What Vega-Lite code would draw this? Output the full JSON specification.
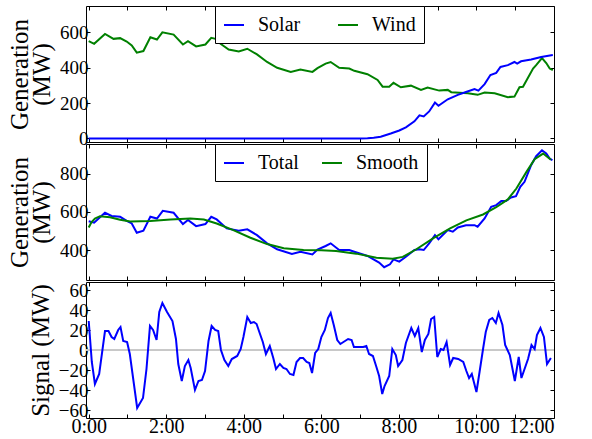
{
  "$schema": "https://vega.github.io/schema/vega-lite/v6.json",
  "padding": {"left": 7, "top": 5, "right": 5, "bottom": 0},
  "background": "white",
  "bounds": "flush",
  "spacing": 2,
  "config": {
    "font": "Liberation Serif",
    "view": {"stroke": "#000", "strokeWidth": 1},
    "axis": {"grid": false, "domain": false, "tickSize": -4, "tickColor": "#000", "labelFont": "Liberation Serif", "labelFontSize": 19, "labelColor": "#000", "labelPadding": 2, "titleFont": "Liberation Serif", "titleFontSize": 25, "titleFontWeight": "normal", "titleColor": "#000", "titlePadding": 5, "titleLineHeight": 22},
    "legend": {"labelFont": "Liberation Serif", "labelFontSize": 20, "labelColor": "#000", "symbolType": "stroke", "symbolSize": 400, "symbolStrokeWidth": 2, "labelOffset": 13, "padding": 8, "fillColor": "#fff", "strokeColor": "#000", "cornerRadius": 0}
  },
  "datasets": {
    "top": [
      {"hour": 0, "series": "Wind", "mw": 551}, {"hour": 0.14, "series": "Wind", "mw": 536}, {"hour": 0.42, "series": "Wind", "mw": 592}, {"hour": 0.64, "series": "Wind", "mw": 564}, {"hour": 0.81, "series": "Wind", "mw": 568}, {"hour": 0.98, "series": "Wind", "mw": 549}, {"hour": 1.11, "series": "Wind", "mw": 527}, {"hour": 1.24, "series": "Wind", "mw": 486}, {"hour": 1.41, "series": "Wind", "mw": 495}, {"hour": 1.59, "series": "Wind", "mw": 573}, {"hour": 1.76, "series": "Wind", "mw": 560}, {"hour": 1.9, "series": "Wind", "mw": 601}, {"hour": 2.19, "series": "Wind", "mw": 588}, {"hour": 2.43, "series": "Wind", "mw": 532}, {"hour": 2.56, "series": "Wind", "mw": 551}, {"hour": 2.77, "series": "Wind", "mw": 521}, {"hour": 3.01, "series": "Wind", "mw": 532}, {"hour": 3.16, "series": "Wind", "mw": 570}, {"hour": 3.27, "series": "Wind", "mw": 564}, {"hour": 3.4, "series": "Wind", "mw": 536}, {"hour": 3.61, "series": "Wind", "mw": 504}, {"hour": 3.87, "series": "Wind", "mw": 493}, {"hour": 4.09, "series": "Wind", "mw": 508}, {"hour": 4.34, "series": "Wind", "mw": 476}, {"hour": 4.6, "series": "Wind", "mw": 433}, {"hour": 4.86, "series": "Wind", "mw": 400}, {"hour": 5.21, "series": "Wind", "mw": 377}, {"hour": 5.46, "series": "Wind", "mw": 390}, {"hour": 5.77, "series": "Wind", "mw": 377}, {"hour": 5.9, "series": "Wind", "mw": 398}, {"hour": 6.11, "series": "Wind", "mw": 424}, {"hour": 6.24, "series": "Wind", "mw": 433}, {"hour": 6.46, "series": "Wind", "mw": 400}, {"hour": 6.72, "series": "Wind", "mw": 396}, {"hour": 6.85, "series": "Wind", "mw": 383}, {"hour": 7.19, "series": "Wind", "mw": 364}, {"hour": 7.45, "series": "Wind", "mw": 331}, {"hour": 7.58, "series": "Wind", "mw": 293}, {"hour": 7.75, "series": "Wind", "mw": 293}, {"hour": 7.86, "series": "Wind", "mw": 315}, {"hour": 8.05, "series": "Wind", "mw": 290}, {"hour": 8.31, "series": "Wind", "mw": 299}, {"hour": 8.57, "series": "Wind", "mw": 275}, {"hour": 8.74, "series": "Wind", "mw": 288}, {"hour": 9.04, "series": "Wind", "mw": 271}, {"hour": 9.26, "series": "Wind", "mw": 275}, {"hour": 9.35, "series": "Wind", "mw": 262}, {"hour": 9.78, "series": "Wind", "mw": 256}, {"hour": 10.03, "series": "Wind", "mw": 247}, {"hour": 10.21, "series": "Wind", "mw": 260}, {"hour": 10.47, "series": "Wind", "mw": 256}, {"hour": 10.81, "series": "Wind", "mw": 234}, {"hour": 10.98, "series": "Wind", "mw": 237}, {"hour": 11.11, "series": "Wind", "mw": 290}, {"hour": 11.2, "series": "Wind", "mw": 293}, {"hour": 11.46, "series": "Wind", "mw": 396}, {"hour": 11.54, "series": "Wind", "mw": 415}, {"hour": 11.69, "series": "Wind", "mw": 455}, {"hour": 11.8, "series": "Wind", "mw": 427}, {"hour": 11.89, "series": "Wind", "mw": 396}, {"hour": 11.97, "series": "Wind", "mw": 387},
      {"hour": 0, "series": "Solar", "mw": 0}, {"hour": 1, "series": "Solar", "mw": 0}, {"hour": 2, "series": "Solar", "mw": 0}, {"hour": 3, "series": "Solar", "mw": 0}, {"hour": 4, "series": "Solar", "mw": 0}, {"hour": 5, "series": "Solar", "mw": 0}, {"hour": 6, "series": "Solar", "mw": 0}, {"hour": 7, "series": "Solar", "mw": 0}, {"hour": 7.19, "series": "Solar", "mw": 1}, {"hour": 7.35, "series": "Solar", "mw": 4}, {"hour": 7.53, "series": "Solar", "mw": 10}, {"hour": 7.79, "series": "Solar", "mw": 28}, {"hour": 8.01, "series": "Solar", "mw": 45}, {"hour": 8.18, "series": "Solar", "mw": 63}, {"hour": 8.4, "series": "Solar", "mw": 97}, {"hour": 8.53, "series": "Solar", "mw": 131}, {"hour": 8.64, "series": "Solar", "mw": 125}, {"hour": 8.78, "series": "Solar", "mw": 153}, {"hour": 8.93, "series": "Solar", "mw": 203}, {"hour": 9.02, "series": "Solar", "mw": 185}, {"hour": 9.26, "series": "Solar", "mw": 222}, {"hour": 9.52, "series": "Solar", "mw": 247}, {"hour": 9.73, "series": "Solar", "mw": 263}, {"hour": 9.95, "series": "Solar", "mw": 280}, {"hour": 10.05, "series": "Solar", "mw": 271}, {"hour": 10.21, "series": "Solar", "mw": 308}, {"hour": 10.36, "series": "Solar", "mw": 359}, {"hour": 10.51, "series": "Solar", "mw": 371}, {"hour": 10.62, "series": "Solar", "mw": 405}, {"hour": 10.81, "series": "Solar", "mw": 415}, {"hour": 10.98, "series": "Solar", "mw": 433}, {"hour": 11.05, "series": "Solar", "mw": 424}, {"hour": 11.15, "series": "Solar", "mw": 437}, {"hour": 11.41, "series": "Solar", "mw": 447}, {"hour": 11.67, "series": "Solar", "mw": 461}, {"hour": 11.93, "series": "Solar", "mw": 471}, {"hour": 11.97, "series": "Solar", "mw": 472}
    ],
    "mid": [
      {"hour": 0, "series": "Total", "mw": 551}, {"hour": 0.14, "series": "Total", "mw": 543}, {"hour": 0.29, "series": "Total", "mw": 571}, {"hour": 0.42, "series": "Total", "mw": 595}, {"hour": 0.59, "series": "Total", "mw": 578}, {"hour": 0.81, "series": "Total", "mw": 574}, {"hour": 0.98, "series": "Total", "mw": 553}, {"hour": 1.11, "series": "Total", "mw": 539}, {"hour": 1.24, "series": "Total", "mw": 490}, {"hour": 1.41, "series": "Total", "mw": 501}, {"hour": 1.59, "series": "Total", "mw": 574}, {"hour": 1.76, "series": "Total", "mw": 565}, {"hour": 1.91, "series": "Total", "mw": 605}, {"hour": 2.19, "series": "Total", "mw": 595}, {"hour": 2.43, "series": "Total", "mw": 536}, {"hour": 2.56, "series": "Total", "mw": 557}, {"hour": 2.77, "series": "Total", "mw": 525}, {"hour": 3.01, "series": "Total", "mw": 536}, {"hour": 3.16, "series": "Total", "mw": 574}, {"hour": 3.3, "series": "Total", "mw": 560}, {"hour": 3.56, "series": "Total", "mw": 513}, {"hour": 3.87, "series": "Total", "mw": 501}, {"hour": 4.09, "series": "Total", "mw": 508}, {"hour": 4.34, "series": "Total", "mw": 478}, {"hour": 4.6, "series": "Total", "mw": 435}, {"hour": 4.86, "series": "Total", "mw": 404}, {"hour": 5.24, "series": "Total", "mw": 379}, {"hour": 5.46, "series": "Total", "mw": 391}, {"hour": 5.77, "series": "Total", "mw": 377}, {"hour": 5.9, "series": "Total", "mw": 402}, {"hour": 6.11, "series": "Total", "mw": 421}, {"hour": 6.24, "series": "Total", "mw": 435}, {"hour": 6.46, "series": "Total", "mw": 400}, {"hour": 6.72, "series": "Total", "mw": 400}, {"hour": 6.85, "series": "Total", "mw": 391}, {"hour": 7.19, "series": "Total", "mw": 369}, {"hour": 7.49, "series": "Total", "mw": 334}, {"hour": 7.62, "series": "Total", "mw": 310}, {"hour": 7.77, "series": "Total", "mw": 325}, {"hour": 7.86, "series": "Total", "mw": 351}, {"hour": 8.01, "series": "Total", "mw": 339}, {"hour": 8.18, "series": "Total", "mw": 365}, {"hour": 8.4, "series": "Total", "mw": 400}, {"hour": 8.53, "series": "Total", "mw": 404}, {"hour": 8.64, "series": "Total", "mw": 400}, {"hour": 8.78, "series": "Total", "mw": 435}, {"hour": 8.93, "series": "Total", "mw": 478}, {"hour": 9.02, "series": "Total", "mw": 456}, {"hour": 9.26, "series": "Total", "mw": 504}, {"hour": 9.39, "series": "Total", "mw": 496}, {"hour": 9.52, "series": "Total", "mw": 518}, {"hour": 9.73, "series": "Total", "mw": 530}, {"hour": 9.95, "series": "Total", "mw": 530}, {"hour": 10.03, "series": "Total", "mw": 522}, {"hour": 10.21, "series": "Total", "mw": 565}, {"hour": 10.38, "series": "Total", "mw": 626}, {"hour": 10.51, "series": "Total", "mw": 635}, {"hour": 10.64, "series": "Total", "mw": 656}, {"hour": 10.76, "series": "Total", "mw": 656}, {"hour": 10.89, "series": "Total", "mw": 675}, {"hour": 11.02, "series": "Total", "mw": 682}, {"hour": 11.13, "series": "Total", "mw": 731}, {"hour": 11.24, "series": "Total", "mw": 757}, {"hour": 11.41, "series": "Total", "mw": 844}, {"hour": 11.54, "series": "Total", "mw": 891}, {"hour": 11.69, "series": "Total", "mw": 922}, {"hour": 11.8, "series": "Total", "mw": 905}, {"hour": 11.89, "series": "Total", "mw": 879}, {"hour": 11.96, "series": "Total", "mw": 870},
      {"hour": 0, "series": "Smooth", "mw": 518}, {"hour": 0.07, "series": "Smooth", "mw": 545}, {"hour": 0.16, "series": "Smooth", "mw": 565}, {"hour": 0.29, "series": "Smooth", "mw": 577}, {"hour": 0.55, "series": "Smooth", "mw": 571}, {"hour": 0.81, "series": "Smooth", "mw": 558}, {"hour": 1.07, "series": "Smooth", "mw": 549}, {"hour": 1.59, "series": "Smooth", "mw": 552}, {"hour": 2.11, "series": "Smooth", "mw": 560}, {"hour": 2.62, "series": "Smooth", "mw": 565}, {"hour": 2.97, "series": "Smooth", "mw": 560}, {"hour": 3.3, "series": "Smooth", "mw": 539}, {"hour": 3.73, "series": "Smooth", "mw": 504}, {"hour": 4.17, "series": "Smooth", "mw": 464}, {"hour": 4.6, "series": "Smooth", "mw": 431}, {"hour": 5.03, "series": "Smooth", "mw": 409}, {"hour": 5.54, "series": "Smooth", "mw": 400}, {"hour": 6.0, "series": "Smooth", "mw": 399}, {"hour": 6.38, "series": "Smooth", "mw": 395}, {"hour": 6.9, "series": "Smooth", "mw": 381}, {"hour": 7.42, "series": "Smooth", "mw": 360}, {"hour": 7.84, "series": "Smooth", "mw": 354}, {"hour": 8.1, "series": "Smooth", "mw": 364}, {"hour": 8.45, "series": "Smooth", "mw": 404}, {"hour": 8.88, "series": "Smooth", "mw": 461}, {"hour": 9.32, "series": "Smooth", "mw": 513}, {"hour": 9.74, "series": "Smooth", "mw": 555}, {"hour": 10.17, "series": "Smooth", "mw": 586}, {"hour": 10.51, "series": "Smooth", "mw": 624}, {"hour": 10.81, "series": "Smooth", "mw": 665}, {"hour": 11.03, "series": "Smooth", "mw": 722}, {"hour": 11.29, "series": "Smooth", "mw": 809}, {"hour": 11.5, "series": "Smooth", "mw": 875}, {"hour": 11.72, "series": "Smooth", "mw": 905}, {"hour": 11.92, "series": "Smooth", "mw": 873}
    ],
    "sig": [
      {"hour": 0, "mw": 29}, {"hour": 0.08, "mw": -12}, {"hour": 0.16, "mw": -34}, {"hour": 0.27, "mw": -24}, {"hour": 0.42, "mw": 19}, {"hour": 0.51, "mw": 19}, {"hour": 0.59, "mw": 13}, {"hour": 0.66, "mw": 11}, {"hour": 0.76, "mw": 20}, {"hour": 0.82, "mw": 23}, {"hour": 0.89, "mw": 9}, {"hour": 0.99, "mw": 8}, {"hour": 1.06, "mw": -4}, {"hour": 1.25, "mw": -58}, {"hour": 1.4, "mw": -48}, {"hour": 1.49, "mw": -19}, {"hour": 1.58, "mw": 24}, {"hour": 1.66, "mw": 20}, {"hour": 1.75, "mw": 10}, {"hour": 1.82, "mw": 38}, {"hour": 1.9, "mw": 47}, {"hour": 2.02, "mw": 38}, {"hour": 2.16, "mw": 29}, {"hour": 2.25, "mw": 11}, {"hour": 2.31, "mw": -14}, {"hour": 2.4, "mw": -31}, {"hour": 2.48, "mw": -16}, {"hour": 2.57, "mw": -10}, {"hour": 2.63, "mw": -18}, {"hour": 2.74, "mw": -40}, {"hour": 2.83, "mw": -31}, {"hour": 2.92, "mw": -30}, {"hour": 3.0, "mw": -21}, {"hour": 3.09, "mw": 9}, {"hour": 3.17, "mw": 24}, {"hour": 3.26, "mw": 20}, {"hour": 3.34, "mw": 19}, {"hour": 3.41, "mw": 0}, {"hour": 3.5, "mw": -10}, {"hour": 3.6, "mw": -16}, {"hour": 3.69, "mw": -9}, {"hour": 3.83, "mw": -6}, {"hour": 3.92, "mw": 1}, {"hour": 3.99, "mw": 13}, {"hour": 4.09, "mw": 33}, {"hour": 4.18, "mw": 27}, {"hour": 4.26, "mw": 28}, {"hour": 4.33, "mw": 26}, {"hour": 4.4, "mw": 18}, {"hour": 4.49, "mw": 8}, {"hour": 4.57, "mw": -4}, {"hour": 4.67, "mw": 4}, {"hour": 4.76, "mw": -8}, {"hour": 4.83, "mw": -19}, {"hour": 4.93, "mw": -14}, {"hour": 5.02, "mw": -18}, {"hour": 5.1, "mw": -19}, {"hour": 5.19, "mw": -24}, {"hour": 5.28, "mw": -25}, {"hour": 5.36, "mw": -12}, {"hour": 5.45, "mw": -8}, {"hour": 5.53, "mw": -8}, {"hour": 5.62, "mw": -12}, {"hour": 5.69, "mw": -13}, {"hour": 5.76, "mw": -23}, {"hour": 5.84, "mw": -3}, {"hour": 5.92, "mw": 1}, {"hour": 6.0, "mw": 13}, {"hour": 6.09, "mw": 20}, {"hour": 6.17, "mw": 32}, {"hour": 6.24, "mw": 37}, {"hour": 6.32, "mw": 25}, {"hour": 6.41, "mw": 10}, {"hour": 6.49, "mw": 6}, {"hour": 6.61, "mw": 9}, {"hour": 6.69, "mw": 11}, {"hour": 6.78, "mw": 10}, {"hour": 6.84, "mw": 3}, {"hour": 6.95, "mw": 3}, {"hour": 7.08, "mw": 3}, {"hour": 7.16, "mw": 4}, {"hour": 7.23, "mw": -4}, {"hour": 7.33, "mw": -6}, {"hour": 7.42, "mw": -17}, {"hour": 7.49, "mw": -26}, {"hour": 7.57, "mw": -44}, {"hour": 7.63, "mw": -36}, {"hour": 7.75, "mw": -26}, {"hour": 7.83, "mw": 1}, {"hour": 7.92, "mw": -5}, {"hour": 7.98, "mw": -16}, {"hour": 8.09, "mw": -10}, {"hour": 8.18, "mw": 7}, {"hour": 8.32, "mw": 22}, {"hour": 8.41, "mw": 14}, {"hour": 8.5, "mw": 22}, {"hour": 8.59, "mw": -2}, {"hour": 8.67, "mw": 10}, {"hour": 8.76, "mw": 16}, {"hour": 8.83, "mw": 31}, {"hour": 8.91, "mw": 33}, {"hour": 8.99, "mw": -7}, {"hour": 9.08, "mw": 1}, {"hour": 9.15, "mw": 0}, {"hour": 9.23, "mw": 8}, {"hour": 9.32, "mw": -15}, {"hour": 9.4, "mw": -8}, {"hour": 9.53, "mw": -9}, {"hour": 9.66, "mw": -12}, {"hour": 9.74, "mw": -21}, {"hour": 9.81, "mw": -28}, {"hour": 9.88, "mw": -24}, {"hour": 10.0, "mw": -42}, {"hour": 10.08, "mw": -22}, {"hour": 10.17, "mw": 1}, {"hour": 10.24, "mw": 18}, {"hour": 10.33, "mw": 30}, {"hour": 10.41, "mw": 32}, {"hour": 10.5, "mw": 27}, {"hour": 10.57, "mw": 37}, {"hour": 10.67, "mw": 25}, {"hour": 10.74, "mw": 5}, {"hour": 10.86, "mw": -5}, {"hour": 10.99, "mw": -31}, {"hour": 11.09, "mw": -7}, {"hour": 11.16, "mw": -28}, {"hour": 11.33, "mw": -9}, {"hour": 11.42, "mw": 5}, {"hour": 11.5, "mw": 1}, {"hour": 11.56, "mw": 15}, {"hour": 11.65, "mw": 22}, {"hour": 11.74, "mw": 13}, {"hour": 11.82, "mw": -14}, {"hour": 11.92, "mw": -8}
    ]
  },
  "vconcat": [
    {
      "width": 468, "height": 136,
      "data": {"name": "top"},
      "layer": [
        {
          "mark": {"type": "line", "strokeWidth": 2, "clip": true},
          "encoding": {
            "x": {"field": "hour", "type": "quantitative", "scale": {"domain": [-0.07, 12], "nice": false, "zero": false}, "axis": {"values": [0,1,2,3,4,5,6,7,8,9,10,11,12], "labels": false, "title": null, "labelPadding": 0, "maxExtent": 0, "minExtent": 0}},
            "y": {"field": "mw", "type": "quantitative", "scale": {"domain": [-20, 750], "nice": false, "zero": false}, "axis": {"values": [0, 200, 400, 600], "title": ["Generation", "(MW)"]}},
            "color": {"field": "series", "type": "nominal", "sort": ["Solar", "Wind"], "scale": {"domain": ["Solar", "Wind"], "range": ["#0000ff", "#008000"]}, "legend": {"orient": "none", "legendX": 129, "legendY": 0, "direction": "horizontal", "title": null, "columnPadding": 33}}
          }
        },
        {
          "mark": {"type": "point", "opacity": 0},
          "encoding": {
            "x": {"field": "hour", "type": "quantitative", "axis": {"orient": "top", "values": [0,1,2,3,4,5,6,7,8,9,10,11,12], "labels": false, "title": null, "labelPadding": 0, "maxExtent": 0, "minExtent": 0}},
            "y": {"field": "mw", "type": "quantitative", "axis": {"orient": "right", "values": [0, 200, 400, 600], "labels": false, "title": null, "labelPadding": 0, "maxExtent": 0, "minExtent": 0}}
          }
        }
      ],
      "resolve": {"axis": {"x": "independent", "y": "independent"}}
    },
    {
      "width": 468, "height": 136,
      "data": {"name": "mid"},
      "layer": [
        {
          "mark": {"type": "line", "strokeWidth": 2, "clip": true},
          "encoding": {
            "x": {"field": "hour", "type": "quantitative", "scale": {"domain": [-0.07, 12], "nice": false, "zero": false}, "axis": {"values": [0,1,2,3,4,5,6,7,8,9,10,11,12], "labels": false, "title": null, "labelPadding": 0, "maxExtent": 0, "minExtent": 0}},
            "y": {"field": "mw", "type": "quantitative", "scale": {"domain": [243, 955], "nice": false, "zero": false}, "axis": {"values": [400, 600, 800], "title": ["Generation", "(MW)"]}},
            "color": {"field": "series", "type": "nominal", "sort": ["Total", "Smooth"], "scale": {"domain": ["Total", "Smooth"], "range": ["#0000ff", "#008000"]}, "legend": {"orient": "none", "legendX": 129, "legendY": 0, "direction": "horizontal", "title": null, "columnPadding": 19}}
          }
        },
        {
          "mark": {"type": "point", "opacity": 0},
          "encoding": {
            "x": {"field": "hour", "type": "quantitative", "axis": {"orient": "top", "values": [0,1,2,3,4,5,6,7,8,9,10,11,12], "labels": false, "title": null, "labelPadding": 0, "maxExtent": 0, "minExtent": 0}},
            "y": {"field": "mw", "type": "quantitative", "axis": {"orient": "right", "values": [400, 600, 800], "labels": false, "title": null, "labelPadding": 0, "maxExtent": 0, "minExtent": 0}}
          }
        }
      ],
      "resolve": {"axis": {"x": "independent", "y": "independent"}}
    },
    {
      "width": 468, "height": 136,
      "data": {"name": "sig"},
      "layer": [
        {
          "mark": {"type": "rule", "color": "#c8c8c8", "strokeWidth": 1},
          "encoding": {"y": {"datum": 0, "type": "quantitative", "scale": {"domain": [-68, 68], "nice": false, "zero": false}, "axis": {"values": [-60, -40, -20, 0, 20, 40, 60], "title": "Signal (MW)"}}}
        },
        {
          "mark": {"type": "line", "strokeWidth": 2, "color": "#0000ff", "clip": true},
          "encoding": {
            "x": {"field": "hour", "type": "quantitative", "scale": {"domain": [-0.07, 12], "nice": false, "zero": false}, "axis": {"values": [0,1,2,3,4,5,6,7,8,9,10,11,12], "title": null, "labelFontSize": 20, "labelPadding": 2, "labelExpr": "datum.value % 2 == 0 ? datum.value + ':00' : ''"}},
            "y": {"field": "mw", "type": "quantitative", "axis": null}
          }
        },
        {
          "mark": {"type": "point", "opacity": 0},
          "encoding": {
            "x": {"field": "hour", "type": "quantitative", "axis": {"orient": "top", "values": [0,1,2,3,4,5,6,7,8,9,10,11,12], "labels": false, "title": null, "labelPadding": 0, "maxExtent": 0, "minExtent": 0}},
            "y": {"field": "mw", "type": "quantitative", "axis": {"orient": "right", "values": [-60, -40, -20, 0, 20, 40, 60], "labels": false, "title": null, "labelPadding": 0, "maxExtent": 0, "minExtent": 0}}
          }
        }
      ],
      "resolve": {"axis": {"x": "independent", "y": "independent"}}
    }
  ],
  "resolve": {"scale": {"color": "independent"}}
}
